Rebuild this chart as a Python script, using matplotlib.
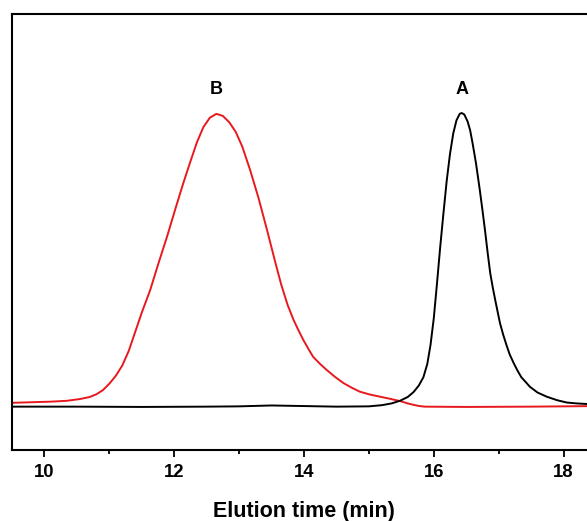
import matplotlib
matplotlib.use("Agg")
import matplotlib.pyplot as plt
from matplotlib.ticker import MultipleLocator

plt.rcParams["font.family"] = ["Liberation Sans", "DejaVu Sans"]

# trace B (red)
time_b = [9.5, 9.8, 10.1, 10.35, 10.55, 10.70, 10.80, 10.90, 11.00, 11.10,
          11.20, 11.30, 11.40, 11.50, 11.63, 11.76, 11.89, 12.02, 12.14,
          12.25, 12.35, 12.45, 12.55, 12.65, 12.75, 12.85, 12.95, 13.05,
          13.17, 13.30, 13.43, 13.56, 13.65, 13.75, 13.84, 13.92, 13.99,
          14.07, 14.14, 14.25, 14.35, 14.48, 14.61, 14.74, 14.86, 15.02,
          15.17, 15.32, 15.48, 15.60, 15.69, 15.78, 15.86, 16.5, 17.5, 18.5]
signal_b = [0.013, 0.015, 0.017, 0.020, 0.026, 0.033, 0.042, 0.056, 0.078,
            0.105, 0.140, 0.19, 0.255, 0.32, 0.397, 0.49, 0.579, 0.675,
            0.761, 0.835, 0.90, 0.952, 0.984, 0.997, 0.990, 0.968, 0.935,
            0.885, 0.806, 0.71, 0.602, 0.49, 0.415, 0.345, 0.295, 0.258,
            0.227, 0.196, 0.170, 0.145, 0.125, 0.101, 0.080, 0.064, 0.051,
            0.041, 0.034, 0.027, 0.019, 0.011, 0.006, 0.002, 0.0, -0.001,
            0.0, 0.002]

# trace A (black)
time_a = [9.5, 10.5, 11.5, 12.5, 13.0, 13.5, 14.0, 14.5, 15.0, 15.2, 15.35,
          15.48, 15.60, 15.69, 15.77, 15.84, 15.90, 15.95, 16.00, 16.05,
          16.10, 16.15, 16.20, 16.25, 16.30, 16.35, 16.40, 16.43, 16.47,
          16.52, 16.56, 16.60, 16.65, 16.71, 16.75, 16.79, 16.83, 16.87,
          16.91, 16.95, 17.02, 17.07, 17.12, 17.17, 17.23, 17.29, 17.35,
          17.42, 17.48, 17.60, 17.74, 17.90, 18.05, 18.20, 18.36, 18.5]
signal_a = [0.0, 0.0, -0.001, 0.0, 0.001, 0.004, 0.002, 0.0, 0.001, 0.005,
            0.011, 0.02, 0.033, 0.05, 0.072, 0.10, 0.145, 0.21, 0.30, 0.42,
            0.545, 0.66, 0.77, 0.86, 0.93, 0.975, 0.997, 1.0, 0.995, 0.972,
            0.942, 0.895, 0.83, 0.737, 0.67, 0.60, 0.525, 0.455, 0.405,
            0.36, 0.285, 0.245, 0.21, 0.178, 0.149, 0.123, 0.10, 0.083,
            0.068, 0.048, 0.034, 0.022, 0.014, 0.011, 0.009, 0.008]

peak_labels = ["B", "A"]
peak_times = [12.65, 16.43]

fig = plt.figure(figsize=(5.87, 5.21), dpi=100)
ax = fig.add_axes([0.0204, 0.1372, 0.9949, 0.8359])

ax.plot(time_b, signal_b, color="#e8191e", lw=1.4, solid_joinstyle="round")
ax.plot(time_a, signal_a, color="black", lw=1.4, solid_joinstyle="round")

for lab, t in zip(peak_labels, peak_times):
    ax.text(t, 1.08, lab, ha="center", va="center", fontsize=13,
            fontweight="bold")

ax.set_xlim(9.5, 18.5)
ax.set_ylim(-0.146, 1.337)
ax.xaxis.set_major_locator(MultipleLocator(2))
ax.xaxis.set_minor_locator(MultipleLocator(1))
ax.tick_params(axis="x", which="major", direction="out", length=5,
               width=1.3, pad=5.5, labelsize=13.3)
ax.tick_params(axis="x", which="minor", direction="out", length=3, width=1.3)
for lbl in ax.get_xticklabels():
    lbl.set_fontweight("bold")
ax.set_yticks([])
for sp in ax.spines.values():
    sp.set_linewidth(1.5)

ax.set_xlabel("Elution time (min)", fontsize=15.5, fontweight="bold",
              labelpad=14)

fig.savefig("out.png", dpi=100)
